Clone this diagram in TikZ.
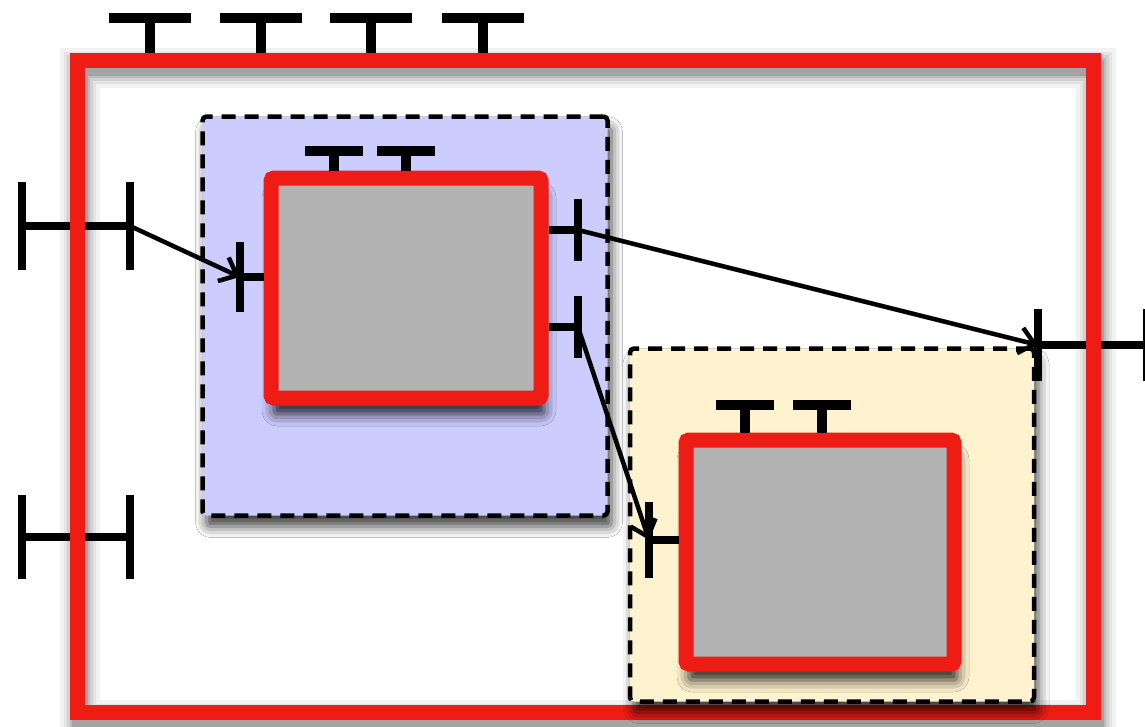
\documentclass[tikz,border=0pt]{standalone}
\usetikzlibrary{arrows.meta,shadows.blur}
\definecolor{framered}{RGB}{238,28,20}
\definecolor{boxgray}{RGB}{179,179,179}
\definecolor{lav}{RGB}{204,204,255}
\definecolor{cream}{RGB}{255,242,206}
\begin{document}
\begin{tikzpicture}[x=1pt,y=-1pt,
  frame/.style={draw=framered, line width=15pt, inner sep=0pt},
  redbox/.style={draw=framered, line width=15pt, fill=boxgray, rounded corners=3pt, inner sep=0pt,
    blur shadow={shadow xshift=3pt, shadow yshift=-16pt, shadow blur radius=12pt, shadow opacity=85}},
  dashbox/.style={draw=black, line width=4.5pt, dash pattern=on 14pt off 9pt, rounded corners=4pt, inner sep=0pt,
    blur shadow={shadow xshift=4pt, shadow yshift=-11pt, shadow blur radius=11pt, shadow opacity=75}},
  tbar/.style={line width=10pt, black},
  pbar/.style={line width=8pt, black},
  conn/.style={line width=4.5pt, black, -{Straight Barb[length=15pt, width=26pt]}}
]
\useasboundingbox (0,0) rectangle (1145,726);
\fill[white] (0,0) rectangle (1145,726);
% soft shadow of the frame
\foreach \w/\o in {40/0.05,32/0.06,26/0.08,20/0.10,16/0.12}{
  \begin{scope}[opacity=\o]
    \draw[black, line width=\w pt] (80,68) rectangle (1096,720);
  \end{scope}
}

% port coordinates
\coordinate (lp1o) at (22,226);  \coordinate (lp1i) at (130,226);
\coordinate (lp2o) at (22,537);  \coordinate (lp2i) at (130,537);
\coordinate (rpi) at (1038,345); \coordinate (rpo) at (1147,345);
\coordinate (bl) at (240,277);
\coordinate (br1) at (578,230);  \coordinate (br2) at (578,327);
\coordinate (yl) at (649,540);

% horizontal lines of boundary ports (under the frame)
\draw[pbar] (lp1o) -- (lp1i);
\draw[pbar] (lp2o) -- (lp2i);
\draw[pbar] (rpi) -- (rpo);

% outer frame
\node[frame, minimum width=1016pt, minimum height=652pt] (outer) at (585,386) {};

% blue block
\node[dashbox, fill=lav, minimum width=405pt, minimum height=399pt] (blue) at (405,316) {};
\node[redbox, minimum width=270pt, minimum height=220pt] (bin) at (406,288) {};

% yellow block
\node[dashbox, fill=cream, minimum width=404pt, minimum height=353pt] (yel) at (832,525) {};
\node[redbox, minimum width=268pt, minimum height=224pt] (yin) at (820,552) {};

% top ports of the outer frame
\foreach \i/\x in {1/150,2/261,3/371,4/483}{
  \coordinate (ot\i) at (\x,18);
  \draw[tbar] ([xshift=-41pt]ot\i) -- ([xshift=41pt]ot\i);
  \draw[tbar] (ot\i) -- (ot\i |- outer.north);
}
% top ports of blue inner box
\foreach \i/\x in {1/334,2/406}{
  \coordinate (bt\i) at (\x,151);
  \draw[tbar] ([xshift=-29pt]bt\i) -- ([xshift=29pt]bt\i);
  \draw[tbar] (bt\i) -- (bt\i |- bin.north);
}
% top ports of yellow inner box
\foreach \i/\x in {1/745,2/822}{
  \coordinate (yt\i) at (\x,405);
  \draw[tbar] ([xshift=-29pt]yt\i) -- ([xshift=29pt]yt\i);
  \draw[tbar] (yt\i) -- (yt\i |- yin.north);
}

% vertical bars of boundary ports
\foreach \c in {lp1o,lp1i}{ \draw[pbar] ([yshift=-44pt]\c) -- ([yshift=44pt]\c); }
\foreach \c in {lp2o,lp2i}{ \draw[pbar] ([yshift=-42pt]\c) -- ([yshift=42pt]\c); }
\foreach \c in {rpi,rpo}{ \draw[pbar] ([yshift=-36pt]\c) -- ([yshift=36pt]\c); }

% side ports of inner boxes
\draw[pbar] ([yshift=-35pt]bl) -- ([yshift=35pt]bl);
\draw[pbar] (bl) -- (bl -| bin.west);
\draw[pbar] ([yshift=-31pt]br1) -- ([yshift=31pt]br1);
\draw[pbar] (br1) -- (br1 -| bin.east);
\draw[pbar] ([yshift=-31pt]br2) -- ([yshift=31pt]br2);
\draw[pbar] (br2) -- (br2 -| bin.east);
\draw[pbar] ([yshift=-38pt]yl) -- ([yshift=38pt]yl);
\draw[pbar] (yl) -- (yl -| yin.west);

% connectors
\draw[conn] (lp1i) -- (bl);
\draw[conn] (br1) -- (rpi);
\draw[conn] (br2) -- (yl);
\end{tikzpicture}
\end{document}
